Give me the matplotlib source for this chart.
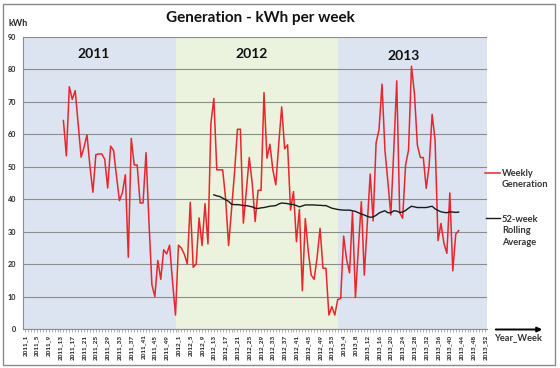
import matplotlib
matplotlib.use('Agg')
from matplotlib import pyplot as plt
import matplotlib.patches as patches

plt.rcParams['font.family'] = ['Lato', 'DejaVu Sans']

# weeks in each year (2012 has a week 53)
years = [2011, 2012, 2013]
weeks_in_year = [52, 53, 52]

# weekly generation in kWh, first value is 2011_14
weekly_start = '2011_14'
weekly = [64.2, 53.3, 74.6, 70.7, 73.4, 63.0, 52.9, 56.0, 59.8, 50.0,
          42.1, 53.7, 53.9, 53.9, 52.3, 43.4, 56.3, 55.0, 47.0, 39.5,
          42.0, 47.5, 22.1, 58.7, 50.5, 50.5, 38.8, 38.8, 54.3, 33.0,
          13.6, 10.0, 21.1, 15.3, 24.4, 23.1, 25.8, 14.5, 4.3, 25.8,
          24.9, 23.0, 20.0, 39.0, 19.0, 20.0, 34.2, 25.7, 38.6, 26.2,
          63.3, 71.0, 49.0, 49.0, 49.0, 40.0, 25.7, 37.0, 48.0, 61.5,
          61.5, 32.6, 42.4, 52.8, 45.0, 33.1, 42.7, 42.7, 72.8, 52.6,
          56.9, 49.0, 44.4, 57.0, 68.4, 55.5, 56.7, 36.6, 42.3, 26.9,
          36.8, 11.8, 34.0, 24.0, 16.6, 15.3, 22.0, 31.0, 18.7, 18.7,
          4.3, 6.9, 4.3, 9.1, 9.4, 28.6, 21.4, 17.3, 36.1, 9.7,
          25.0, 39.2, 16.6, 32.0, 47.7, 33.3, 57.3, 61.4, 75.4, 55.1,
          45.3, 35.1, 55.1, 76.4, 35.8, 34.1, 50.5, 55.1, 80.9, 72.5,
          56.6, 52.8, 52.8, 43.3, 50.5, 66.1, 58.2, 27.2, 32.5, 26.4,
          23.3, 41.9, 17.9, 29.2, 30.3]

# 52-week rolling average, first value is 2012_13
rolling_start = '2012_13'
rolling = [41.3, 41.0, 40.8, 40.3, 39.8, 39.3, 38.4, 38.3, 38.3, 38.2,
           38.0, 38.0, 37.8, 37.6, 37.2, 37.1, 37.3, 37.4, 37.6, 37.8,
           37.9, 38.0, 38.5, 38.8, 38.7, 38.6, 38.4, 38.3, 38.0, 37.6,
           37.9, 38.2, 38.2, 38.2, 38.2, 38.1, 38.1, 38.0, 38.0, 37.6,
           37.2, 37.0, 36.8, 36.7, 36.6, 36.6, 36.6, 36.4, 36.2, 35.8,
           35.4, 35.1, 34.7, 34.4, 34.5, 35.0, 35.7, 36.1, 36.4, 35.8,
           35.8, 36.4, 36.3, 35.9, 36.0, 36.5, 37.2, 37.8, 37.6, 37.4,
           37.4, 37.4, 37.4, 37.6, 37.8, 37.0, 36.5, 36.1, 35.9, 35.8,
           36.1, 36.0, 35.9, 36.0]

categories = []
for yr, n in zip(years, weeks_in_year):
    for w in range(1, n + 1):
        categories.append('%d_%d' % (yr, w))

i0 = categories.index(weekly_start)
r0 = categories.index(rolling_start)

W, H = 560, 368
fig = plt.figure(figsize=(W / 100, H / 100), dpi=100)

# outer chart border
fig.patches.append(patches.Rectangle((3 / W, 3 / H), 552 / W, 361 / H,
                                     transform=fig.transFigure, fill=False,
                                     edgecolor='#8a8a8a', linewidth=1.0))

ax = fig.add_axes([23 / W, 1 - 329 / H, 464 / W, 292.3 / H])
ax.set_xlim(-0.7, 156.6)
ax.set_ylim(0, 90)

# year shading
blue = '#dce4f1'
green = '#ebf2dd'
ax.axvspan(-0.7, 51.2, color=blue, lw=0, zorder=0)
ax.axvspan(51.2, 106.2, color=green, lw=0, zorder=0)
ax.axvspan(106.2, 156.6, color=blue, lw=0, zorder=0)

ax.set_yticks(range(0, 91, 10))
ax.yaxis.grid(True, color='#8c8c8c', linewidth=0.8, zorder=1)
ax.set_axisbelow(True)

ax.plot(range(i0, i0 + len(weekly)), weekly, color='#e8262b', linewidth=1.1, zorder=3)
ax.plot(range(r0, r0 + len(rolling)), rolling, color='#1a1a1a', linewidth=1.0, zorder=4)

for s in ['top', 'right']:
    ax.spines[s].set_visible(False)
ax.spines['left'].set_color('#8c8c8c')
ax.spines['bottom'].set_color('#8c8c8c')

ax.tick_params(axis='y', length=0, pad=5, labelsize=5.2, colors='#262626')
for lab in ax.get_yticklabels():
    lab.set_fontweight('bold')

ax.set_xticks(range(0, len(categories), 4))
ax.set_xticklabels(categories[::4], rotation=90, fontsize=4.6, fontweight='bold',
                   color='#1e1e1e')
ax.set_xticks(range(len(categories)), minor=True)
ax.tick_params(axis='x', which='both', length=2, width=0.5, color='#8c8c8c', pad=2)

# texts
fig.text(260 / W, 1 - 18 / H, 'Generation - kWh per week', ha='center', va='center',
         fontsize=11, fontweight='bold', color='#111111')
fig.text(18 / W, 1 - 24 / H, 'kWh', ha='center', va='center', fontsize=6.5,
         fontweight='bold', color='#262626')
fig.text(94 / W, 1 - 54 / H, '2011', ha='center', va='center', fontsize=10,
         fontweight='bold', color='#111111')
fig.text(252 / W, 1 - 54 / H, '2012', ha='center', va='center', fontsize=10,
         fontweight='bold', color='#111111')
fig.text(404 / W, 1 - 55.5 / H, '2013', ha='center', va='center', fontsize=10,
         fontweight='bold', color='#111111')

# legend drawn by hand like the original
fig.add_artist(plt.Line2D([485 / W, 500 / W], [1 - 173 / H, 1 - 173 / H],
                          color='#e8262b', linewidth=1.1))
fig.text(502 / W, 1 - 179 / H, 'Weekly\nGeneration', ha='left', va='center',
         fontsize=6.7, fontweight='bold', color='#333333', linespacing=1.35)
fig.add_artist(plt.Line2D([486 / W, 500 / W], [1 - 218 / H, 1 - 218 / H],
                          color='#1a1a1a', linewidth=1.0))
fig.text(502 / W, 1 - 231 / H, '52-week\nRolling\nAverage', ha='left', va='center',
         fontsize=6.7, fontweight='bold', color='#333333', linespacing=1.35)

# axis arrow
ax.annotate('', xy=(545 / W, 1 - 329.5 / H), xytext=(493 / W, 1 - 329.5 / H),
            xycoords='figure fraction', textcoords='figure fraction',
            arrowprops=dict(arrowstyle='-|>', color='black', lw=1.4,
                            mutation_scale=7))
fig.text(518 / W, 1 - 338 / H, 'Year_Week', ha='center', va='center', fontsize=6.7,
         fontweight='bold', color='#333333')

fig.savefig('out.png', dpi=100)
